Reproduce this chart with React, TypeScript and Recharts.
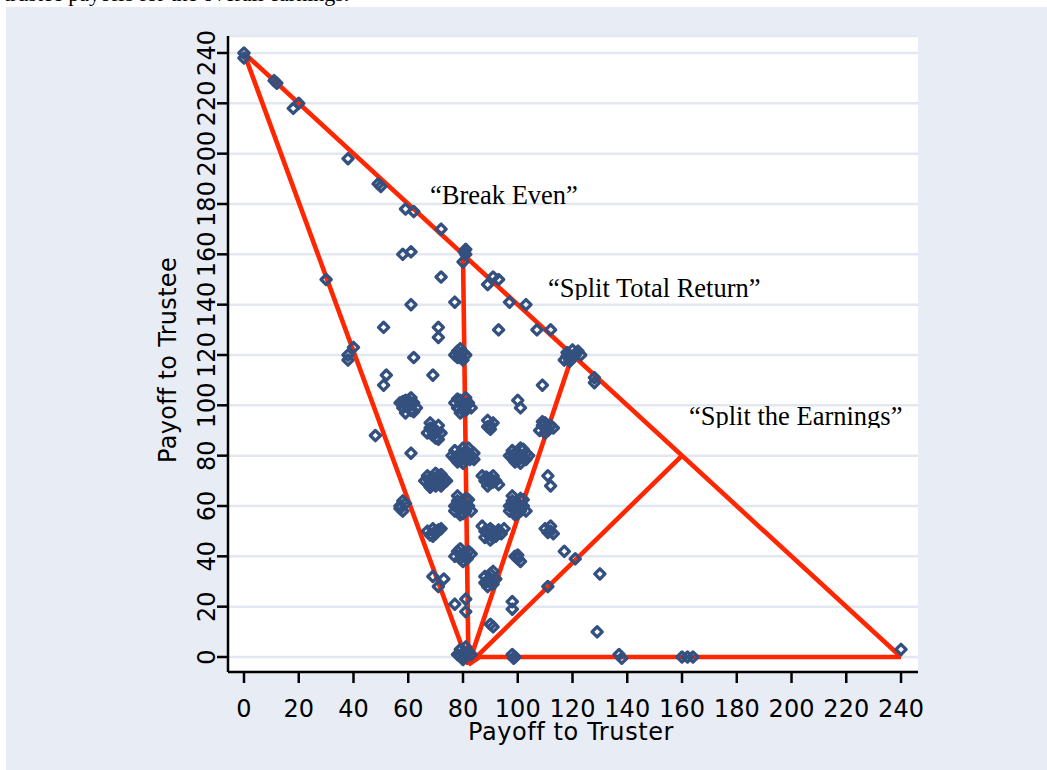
import React from 'react';
import { ScatterChart, Scatter, XAxis, YAxis, CartesianGrid, ReferenceLine } from 'recharts';

// ---- tick labels ----
const xTicks = [0, 20, 40, 60, 80, 100, 120, 140, 160, 180, 200, 220, 240];
const yTicks = [0, 20, 40, 60, 80, 100, 120, 140, 160, 180, 200, 220, 240];

// ---- observations: [payoff to truster, payoff to trustee] ----
const edgePoints: [number, number][] = [
  [0, 240], [0, 238], [12, 228], [11, 229], [18, 218], [20, 220], [38, 198], [49, 188], [50, 187],
  [59, 178], [62, 177], [72, 170], [81, 162], [81, 160], [80, 157], [80.5, 161], [89, 148], [91, 151], [93, 150],
  [97, 141], [103, 140], [107, 130], [112, 130],
  [117, 118], [118, 121], [119, 119], [120, 122], [121, 120], [123, 120], [119, 117.5], [122, 121.5], [118, 119.5],
  [128, 111], [128, 109],
];
const upperPoints: [number, number][] = [
  [58, 160], [61, 161], [72, 151], [30, 150], [61, 140], [77, 141], [51, 131], [71, 131], [71, 127],
  [93, 130], [40, 123], [38, 120], [38, 118],
  [77, 120], [78, 121.5], [79, 119], [80, 121], [81, 120], [79, 122.5], [80, 118], [78, 119],
  [62, 119], [52, 112], [51, 108], [69, 112], [109, 108],
];
const row100: [number, number][] = [
  [57, 101], [58, 99], [59, 102], [60, 100], [61, 98], [62, 101], [63, 99], [59, 97], [61, 103], [58, 101.5], [62, 97.5], [60, 102], [59.5, 99.5], [61.5, 100.5],
  [77, 101], [78, 99], [79, 102], [80, 100], [81, 98], [82, 101], [83, 99], [79, 97], [81, 103], [78, 102.5], [80, 98], [79.5, 100.5], [81.5, 100],
  [100, 102], [101, 99],
];
const row90: [number, number][] = [
  [48, 88],
  [67, 89], [68, 91], [69, 88], [70, 90], [71, 92], [72, 89], [70, 87], [68, 93], [71, 86.5], [69, 91], [70.5, 89.5], [69, 89.5],
  [89, 94], [90, 92], [91, 93], [90, 90.5], [89, 91.5],
  [108, 90], [109, 92], [110, 93], [111, 90], [112, 92], [113, 91], [110, 89], [109, 93.5], [110.5, 91],
];
const row80: [number, number][] = [
  [61, 81],
  [76, 80], [77, 82], [78, 79], [79, 81], [80, 83], [81, 79], [82, 81], [83, 80], [84, 78.5], [78, 77.5], [80, 77], [82, 83], [77, 79], [84, 81], [80, 80.5],
  [78.5, 80.5], [81.5, 80], [79.5, 78.5], [82.5, 78.5],
  [97, 80], [98, 82], [99, 79], [100, 81], [101, 83], [102, 79], [103, 81], [104, 80], [99, 77.5], [101, 77], [98, 79], [102, 82.5], [100, 80],
  [98.5, 80.5], [101.5, 80], [100.5, 78.5], [103, 78.5],
];
const row70: [number, number][] = [
  [66, 70], [67, 72], [68, 69], [69, 71], [70, 73], [71, 70], [72, 68], [73, 71], [74, 70], [68, 67.5], [70, 68], [72, 72.5], [69, 70],
  [67.5, 70.5], [70.5, 71.5], [71.5, 69], [73, 69.5],
  [87, 72], [88, 70], [89, 71], [90, 69], [91, 72], [92, 70], [93, 68.5], [89, 68], [91, 69.5], [90, 71], [88.5, 71.5],
  [111, 72], [112, 68],
];
const row60: [number, number][] = [
  [57, 60], [58, 58], [59, 61], [58, 62], [57, 59],
  [77, 60], [78, 62], [79, 59], [80, 61], [81, 63], [82, 60], [83, 58], [80, 57], [78, 64], [79, 56.5], [81, 58], [82, 62.5], [77, 58],
  [79.5, 60.5], [80.5, 59], [78.5, 60],
  [97, 60], [98, 62], [99, 59], [100, 61], [101, 63], [102, 60], [103, 58], [100, 57], [98, 64], [99, 56.5], [101, 58], [102, 62.5], [97, 58],
  [99.5, 60.5], [100.5, 59], [98.5, 60],
];
const row50: [number, number][] = [
  [110, 51], [111, 49.5], [112, 50], [113, 49], [112, 52],
  [67, 50], [68, 48.5], [69, 51], [70, 49], [71, 50.5], [72, 51], [69, 48], [70, 50],
  [87, 52], [88, 50], [89, 49], [90, 51], [91, 50], [92, 48], [93, 50.5], [94, 49], [95, 51], [90, 46.5], [91, 47.5], [88, 47.5],
  [89.5, 50.5], [92.5, 49.5],
];
const lowerPoints: [number, number][] = [
  [77, 40], [78, 42], [79, 39], [80, 41], [81, 40], [82, 42], [83, 41], [80, 38], [79, 43], [79.5, 40.5], [81.5, 39],
  [99, 40], [100, 39], [101, 38], [100, 40.5], [117, 42], [121, 39],
  [69, 32], [73, 31], [71, 28],
  [88, 32], [89, 30], [90, 31], [91, 29], [92, 31], [89, 28], [91, 34], [90, 33], [88, 29.5], [90.5, 30.5],
  [111, 28], [77, 21], [81, 23], [81, 18], [98, 22], [98, 19], [90, 13], [91, 12],
  [78, 1], [79, 3], [80, 0], [81, 4], [82, 2], [83, 1], [80, -1], [79, 0.5], [80.5, 2],
  [98, 1], [99, 0], [98.5, -0.5],
  [129, 10], [130, 33], [137, 1], [138, -0.5], [160, 0], [162, 0], [164, 0], [240, 3],
];

// ---- red reference segments (data coordinates) ----
const segments: [[number, number], [number, number]][] = [
  [[0, 240], [240, 0]],
  [[0, 240], [82, -3]],
  [[82, -3], [80, 160]],
  [[82, -3], [120, 120]],
  [[82, -3], [160, 80]],
  [[82, -3], [86, 0]],
  [[86, 0], [240, 0]],
];

const NAVY = '#34507f';
const RED = '#ff2600';
const SANS = "'DejaVu Sans', Verdana, sans-serif";
const SERIF = "'Liberation Serif', 'Times New Roman', serif";

const points = [
  ...edgePoints, ...upperPoints, ...row100, ...row90, ...row80, ...row70, ...row60, ...row50, ...lowerPoints,
].map(([x, y]) => ({ x, y }));

const Diamond = (props: any) => {
  const { cx, cy } = props;
  if (cx == null || cy == null) return null;
  const r = 5.1;
  return (
    <path
      d={`M${cx},${cy - r}L${cx + r},${cy}L${cx},${cy + r}L${cx - r},${cy}Z`}
      fill="none"
      stroke={NAVY}
      strokeWidth={3.3}
      strokeLinejoin="round"
    />
  );
};

const XTick = (p: any) => (
  <text x={p.x} y={p.y + 32} textAnchor="middle" fontFamily={SANS} fontSize={24} fill="#000">
    {p.payload.value}
  </text>
);

const YTick = (p: any) => (
  <text
    x={p.x}
    y={p.y}
    transform={`rotate(-90 ${p.x} ${p.y})`}
    textAnchor="middle"
    fontFamily={SANS}
    fontSize={24}
    fill="#000"
  >
    {p.payload.value}
  </text>
);

const XLabel = (p: any) => {
  const vb = p.viewBox || { x: 222, y: 665, width: 690 };
  return (
    <text x={vb.x + vb.width / 2 - 2} y={vb.y + 68} textAnchor="middle" fontFamily={SANS} fontSize={24} letterSpacing={0.6} fill="#000">
      Payoff to Truster
    </text>
  );
};

const YLabel = (p: any) => {
  const vb = p.viewBox || { x: 0, y: 29, height: 636 };
  const x = 170;
  const y = vb.y + vb.height / 2 + 6;
  return (
    <text x={x} y={y} transform={`rotate(-90 ${x} ${y})`} textAnchor="middle" fontFamily={SANS} fontSize={24} letterSpacing={0.3} fill="#000">
      Payoff to Trustee
    </text>
  );
};

const note = (text: string, left: number, baseline: number, clip: boolean) => (
  <div
    style={{
      position: 'absolute',
      left,
      top: baseline - 22,
      height: clip ? 24.5 : undefined,
      overflow: clip ? 'hidden' : 'visible',
      fontFamily: SERIF,
      fontSize: 26.5,
      lineHeight: '26.5px',
      whiteSpace: 'nowrap',
      color: '#000',
    }}
  >
    {text}
  </div>
);

export default function App() {
  return (
    <div>
      <div
        style={{
          position: 'absolute',
          left: 0,
          top: 0,
          width: 1047,
          height: 7,
          overflow: 'hidden',
          background: '#fff',
        }}
      >
        <div style={{ position: 'absolute', left: 4, top: -17.5, fontFamily: SERIF, fontSize: 22, lineHeight: '22px', whiteSpace: 'nowrap' }}>
          trustee payoffs for the overall earnings.
        </div>
      </div>
      <div style={{ position: 'absolute', left: 6, top: 7, width: 1041, height: 763, background: '#e8ecf4' }}>
        <ScatterChart width={1041} height={763} margin={{ top: 29, right: 129, left: 0, bottom: 0 }}>
          <CartesianGrid horizontal vertical={false} fill="#ffffff" stroke="#e3e8f0" strokeWidth={2.5} />
          <XAxis
            type="number"
            dataKey="x"
            domain={[-5.84, 246.2]}
            ticks={xTicks}
            allowDataOverflow
            height={98}
            axisLine={{ stroke: '#000', strokeWidth: 2.5 }}
            tickLine={{ stroke: '#000', strokeWidth: 2.5 }}
            tickSize={11}
            tickMargin={2}
            tick={<XTick />}
            interval={0}
            label={<XLabel />}
          />
          <YAxis
            type="number"
            dataKey="y"
            domain={[-5.96, 246.75]}
            ticks={yTicks}
            allowDataOverflow
            width={222}
            axisLine={{ stroke: '#000', strokeWidth: 2.5 }}
            tickLine={{ stroke: '#000', strokeWidth: 2.5 }}
            tickSize={11}
            tickMargin={2}
            tick={<YTick />}
            interval={0}
            label={<YLabel />}
          />
          <Scatter data={points} shape={<Diamond />} isAnimationActive={false} />
          {segments.map((s, i) => (
            <ReferenceLine
              key={i}
              segment={[{ x: s[0][0], y: s[0][1] }, { x: s[1][0], y: s[1][1] }]}
              stroke={RED}
              strokeWidth={4.6}
              ifOverflow="visible"
            />
          ))}
        </ScatterChart>
      </div>
      {note('\u201CBreak Even\u201D', 430, 204, false)}
      {note('\u201CSplit Total Return\u201D', 548, 297, true)}
      {note('\u201CSplit the Earnings\u201D', 689, 425, true)}
    </div>
  );
}
